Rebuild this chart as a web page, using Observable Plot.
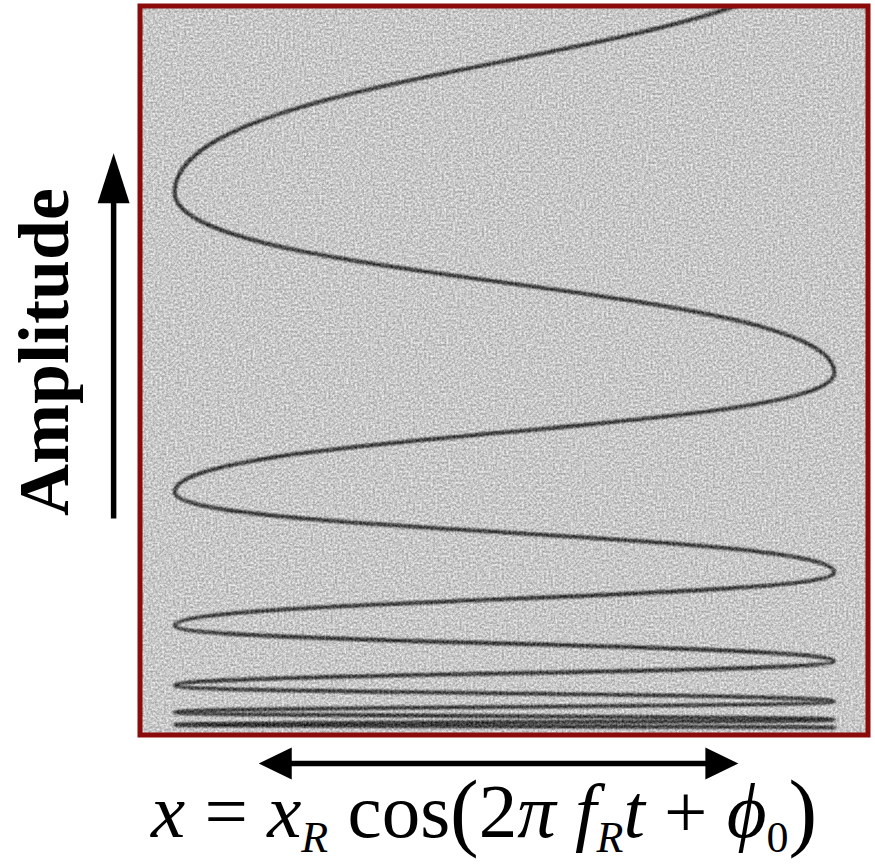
<!DOCTYPE html>
<html>
<head>
<meta charset="utf-8">
<script src="https://cdn.jsdelivr.net/npm/d3@7"></script>
<script src="https://cdn.jsdelivr.net/npm/@observablehq/plot@0.6"></script>
<style>
  html, body { margin: 0; padding: 0; background: #fff; }
  svg { display: block; }
</style>
</head>
<body>
<script>
// Turning points of the trace: side of the swing (cos = ±1) and the amplitude there
const turnSide = [1, -1, 1, -1, 1, -1, 1, -1, 1, -1, 1, -1, 1];
const turnAmplitude = [110.5, 74.4, 49.7, 33.3, 22.3, 15.0, 10.1, 6.8, 4.6, 3.1, 2.1, 1.4, 1.0];

// Annotation arrows: amplitude direction and displacement range
const amplitudeArrowX = [-1.185];
const amplitudeArrowY = [29.7, 79.8];
const displacementArrowY = [-3.9];
const displacementArrowX = [-0.745, 0.709];

const axisLabel = ["Amplitude"];

const turns = turnSide.map((s, i) => ({cos: s, amp: turnAmplitude[i]}));

// Filled triangular arrowhead, tip at the origin, base `len` behind it
const head = (len, w) => ({
  draw(ctx) {
    ctx.moveTo(0, 0);
    ctx.lineTo(-w / 2, len);
    ctx.lineTo(w / 2, len);
    ctx.closePath();
  }
});

const vArrow = [{x: amplitudeArrowX[0], y1: amplitudeArrowY[0], y2: amplitudeArrowY[1]}];
const hArrow = [{y: displacementArrowY[0], x1: displacementArrowX[0], x2: displacementArrowX[1]}];

const plot = Plot.plot({
  width: 875,
  height: 864,
  marginLeft: 139.5,
  marginRight: 7.5,
  marginTop: 5.5,
  marginBottom: 129.5,
  x: {domain: [-1.105, 1.102], axis: null},
  y: {domain: [0, 100], axis: null},
  style: {background: "#fff", overflow: "visible"},
  marks: [
    Plot.frame({fill: "#c8c8c8", stroke: "none"}),
    Plot.line(turns, {x: "cos", y: "amp", curve: "bump-y", stroke: "#555", strokeWidth: 2.8, clip: true}),
    Plot.line(turns, {x: "cos", y: "amp", curve: "bump-y", stroke: "#333", strokeWidth: 2.8, clip: true}),
    Plot.frame({stroke: "#8b0b0b", strokeWidth: 5}),
    // amplitude arrow
    Plot.arrow(vArrow, {x1: "x", x2: "x", y1: "y1", y2: "y2", headLength: 0, insetEnd: 46, strokeWidth: 5.5, stroke: "#000", strokeLinecap: "butt"}),
    Plot.dot(vArrow, {x: "x", y: "y2", symbol: head(50, 32), fill: "#000", stroke: "none", r: 10}),
    // displacement arrow
    Plot.arrow(hArrow, {x1: "x1", x2: "x2", y1: "y", y2: "y", headLength: 0, insetStart: 30, insetEnd: 30, strokeWidth: 5.5, stroke: "#000", strokeLinecap: "butt"}),
    Plot.dot(hArrow, {x: "x1", y: "y", symbol: head(33, 32), rotate: -90, fill: "#000", stroke: "none", r: 10}),
    Plot.dot(hArrow, {x: "x2", y: "y", symbol: head(33, 32), rotate: 90, fill: "#000", stroke: "none", r: 10}),
    // axis label
    Plot.text(axisLabel, {
      frameAnchor: "left", dx: -95.5, dy: -18.5, rotate: -90,
      text: d => d, fontSize: 72, fontWeight: "bold", fontFamily: "Liberation Serif, Times New Roman, serif",
      fill: "#000", textAnchor: "middle"
    })
  ]
});

document.body.append(plot);

// Styling: grainy film background, soft trace, density shading of the trace
const svg = d3.select(plot);
const xs = plot.scale("x"), ys = plot.scale("y");
const defs = svg.insert("defs", ":first-child");

const x0 = 139.5, y0 = 5.5, w = 728, h = 729;
const grain = defs.append("filter").attr("id", "grain")
  .attr("filterUnits", "userSpaceOnUse")
  .attr("x", x0).attr("y", y0).attr("width", w).attr("height", h)
  .attr("color-interpolation-filters", "sRGB");
grain.append("feTurbulence").attr("type", "fractalNoise").attr("baseFrequency", 0.45)
  .attr("numOctaves", 2).attr("seed", 11).attr("result", "noise");
grain.append("feColorMatrix").attr("in", "noise").attr("type", "matrix")
  .attr("values", "1 0 0 0 0  1 0 0 0 0  1 0 0 0 0  0 0 0 0 1").attr("result", "gray");
grain.append("feComposite").attr("in", "SourceGraphic").attr("in2", "gray")
  .attr("operator", "arithmetic").attr("k1", 0).attr("k2", 1).attr("k3", 0.5).attr("k4", -0.25);

const soft = defs.append("filter").attr("id", "soft")
  .attr("x", "-5%").attr("y", "-5%").attr("width", "110%").attr("height", "110%");
soft.append("feGaussianBlur").attr("stdDeviation", 1.3);

// darker where the trace turns (slow), lighter mid-swing (fast)
const sweep = defs.append("linearGradient").attr("id", "sweep")
  .attr("gradientUnits", "userSpaceOnUse")
  .attr("x1", xs.apply(-1) - 2).attr("x2", xs.apply(1) + 2).attr("y1", 0).attr("y2", 0);
[[0, "#3a3a3a"], [0.05, "#626262"], [0.2, "#8e8e8e"], [0.5, "#aaaaaa"], [0.8, "#8e8e8e"], [0.95, "#626262"], [1, "#3a3a3a"]]
  .forEach(([o, c]) => sweep.append("stop").attr("offset", o).attr("stop-color", c));

// the tightly packed low-amplitude swings read darker
const deep = defs.append("linearGradient").attr("id", "deep")
  .attr("gradientUnits", "userSpaceOnUse")
  .attr("x1", 0).attr("x2", 0).attr("y1", ys.apply(25)).attr("y2", ys.apply(0));
[[0, "#333", 0], [1, "#333", 0.5]]
  .forEach(([o, c, a]) => deep.append("stop").attr("offset", o).attr("stop-color", c).attr("stop-opacity", a));

const lines = svg.selectAll("g[aria-label='line']").nodes();
d3.select(lines[0]).attr("stroke", "url(#sweep)").attr("filter", "url(#soft)");
d3.select(lines[1]).attr("stroke", "url(#deep)").attr("filter", "url(#soft)");

const frames = svg.selectAll("g[aria-label='frame'], rect[aria-label='frame']").nodes();
const fillFrame = frames[0];
const wrap = svg.insert("g", () => fillFrame).attr("filter", "url(#grain)");
wrap.node().append(fillFrame, lines[0], lines[1]);

// Displacement formula below the panel
const formula = svg.append("text")
  .attr("x", 151).attr("y", 837)
  .attr("text-anchor", "start")
  .attr("font-family", "Liberation Serif, Times New Roman, serif")
  .attr("font-size", 77).attr("fill", "#000");
const parts = [
  {t: "x", i: true},
  {t: " = "},
  {t: "x", i: true},
  {t: "R", i: true, sub: true},
  {t: " cos"},
  {t: "(", big: true},
  {t: "2"},
  {t: "π", i: true},
  {t: " f", i: true},
  {t: "R", i: true, sub: true},
  {t: "t", i: true},
  {t: " + "},
  {t: "ϕ", i: true},
  {t: "0", sub: true},
  {t: ")", big: true}
];
let shift = 0;
for (const p of parts) {
  const target = p.sub ? 15 : p.big ? 3 : 0;
  const ts = formula.append("tspan").text(p.t).attr("dy", target - shift);
  shift = target;
  if (p.i) ts.attr("font-style", "italic");
  if (p.sub) ts.attr("font-size", 44);
  if (p.big) ts.attr("font-size", 86);
}
</script>
</body>
</html>
